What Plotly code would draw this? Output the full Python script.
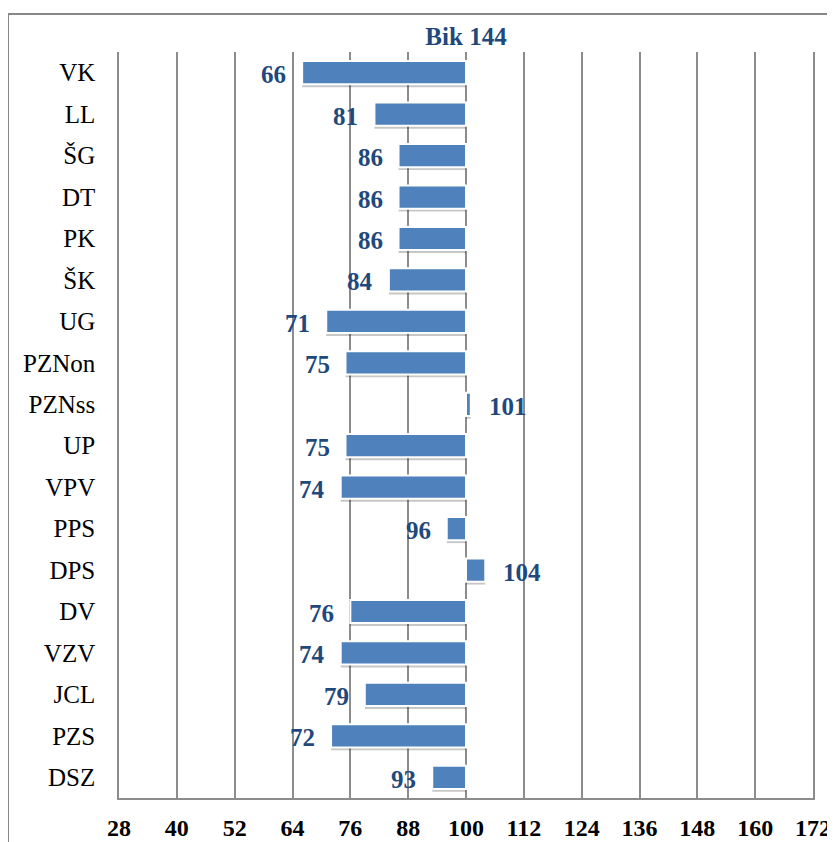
import plotly.graph_objects as go

categories = ["VK", "LL", "ŠG", "DT", "PK", "ŠK", "UG", "PZNon", "PZNss", "UP",
              "VPV", "PPS", "DPS", "DV", "VZV", "JCL", "PZS", "DSZ"]
values = [66, 81, 86, 86, 86, 84, 71, 75, 101, 75, 74, 96, 104, 76, 74, 79, 72, 93]
base_value = 100
tick_values = [28, 40, 52, 64, 76, 88, 100, 112, 124, 136, 148, 160, 172]
title_text = "Bik 144"

# page has an 8px body margin; figure coordinates are page coordinates minus 8
W, H = 827, 834
ML, MR, MT, MB = 111, 22, 44, 44
FONT = "Liberation Serif"
LABEL_COLOR = "#1F497D"
GRID = "#8C8C8C"
BAR_W = 0.56

fig = go.Figure()
# soft drop shadow under each bar
fig.add_trace(go.Bar(
    y=categories,
    x=[v - base_value for v in values],
    base=base_value,
    orientation="h",
    width=BAR_W,
    offset=-BAR_W / 2 + 0.07,
    marker=dict(color="rgba(0,0,0,0.22)", line=dict(width=0)),
    hoverinfo="skip",
))
fig.add_trace(go.Bar(
    y=categories,
    x=[v - base_value for v in values],
    base=base_value,
    orientation="h",
    width=BAR_W,
    marker=dict(color="#4F81BD", line=dict(color="white", width=2)),
    hoverinfo="skip",
))

for c, v in zip(categories, values):
    left = v < base_value
    fig.add_annotation(
        x=v, y=c, xref="x", yref="y",
        text="<b>%d</b>" % v, showarrow=False,
        xanchor="right" if left else "left",
        xshift=-14 if left else 16, yshift=-2,
        font=dict(family=FONT, size=25, color=LABEL_COLOR),
    )

pw = W - ML - MR
ph = H - MT - MB
fig.add_shape(type="rect", xref="paper", yref="paper",
              x0=(0 - ML) / pw, x1=1.3, y0=-0.3, y1=(H - MB - 6) / ph,
              line=dict(color="#888888", width=2), fillcolor="rgba(0,0,0,0)", layer="below")

fig.update_layout(
    width=W, height=H,
    margin=dict(l=ML, r=MR, t=MT, b=MB, autoexpand=False),
    paper_bgcolor="white", plot_bgcolor="white",
    showlegend=False,
    barmode="overlay",
    font=dict(family=FONT),
    title=dict(text="<b>%s</b>" % title_text, x=(ML + pw / 2) / W, xanchor="center",
               y=1 - 28 / H, yanchor="middle", yref="container",
               font=dict(family=FONT, size=25, color=LABEL_COLOR)),
    xaxis=dict(range=[28, 172], tickmode="array", tickvals=tick_values,
               ticktext=["<b>%d</b>" % t for t in tick_values],
               showgrid=True, gridcolor=GRID, gridwidth=1.5, automargin=False,
               zeroline=False, showline=True, linecolor=GRID, linewidth=1.5,
               ticks="", ticklabelstandoff=7,
               tickfont=dict(family=FONT, size=24, color="black"), fixedrange=True),
    yaxis=dict(autorange="reversed", showgrid=False, zeroline=False, automargin=False,
               showline=True, mirror=True, linecolor=GRID, linewidth=1.5,
               ticks="", ticklabelstandoff=17,
               tickfont=dict(family=FONT, size=25, color="black"), fixedrange=True),
)

fig.write_html("out.html")
